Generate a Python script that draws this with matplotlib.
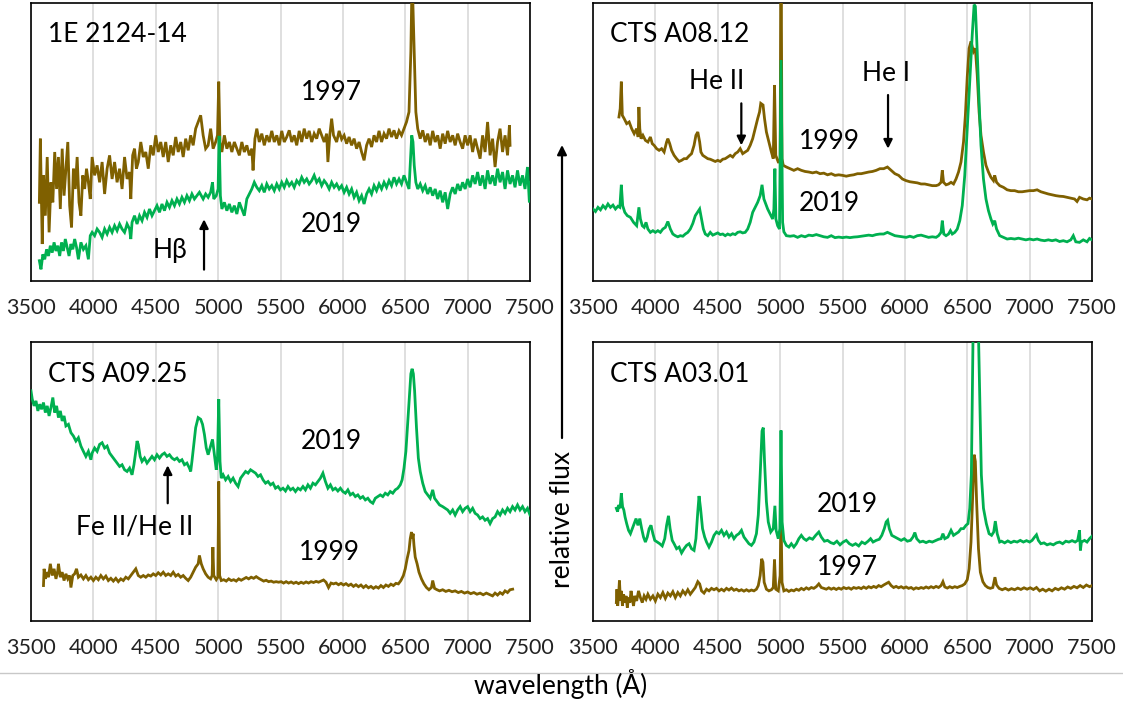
import matplotlib
matplotlib.use("Agg")
import matplotlib.pyplot as plt
from matplotlib.patches import FancyArrowPatch
from matplotlib.lines import Line2D

plt.rcParams['font.family'] = ['Lato', 'DejaVu Sans']

BROWN = '#7F6000'
GREEN = '#00B050'

xticks = [3500, 4000, 4500, 5000, 5500, 6000, 6500, 7000, 7500]

# ---------------- Panel 1: 1E 2124-14 ----------------
p1_1997 = [
    (3567, 28.3), (3575, 51.2), (3590, 13.3), (3600, 38.0), (3615, 23.5), (3630, 44.6), (3645, 17.5),
    (3660, 35.5), (3675, 28.3), (3690, 46.4), (3705, 33.1), (3720, 44.6), (3735, 25.9), (3750, 47.6),
    (3765, 30.7), (3780, 40.4), (3795, 50.0), (3810, 27.1), (3825, 19.3), (3840, 40.4), (3855, 33.1),
    (3870, 44.6), (3885, 28.3), (3900, 23.5), (3915, 38.0), (3930, 33.1), (3945, 40.4), (3960, 35.5),
    (3975, 29.5), (3990, 44.6), (4010, 38.0), (4030, 41.6), (4050, 35.5), (4070, 42.8), (4090, 31.3),
    (4110, 40.4), (4130, 45.2), (4150, 36.7), (4170, 42.8), (4190, 35.5), (4210, 40.4), (4230, 33.1),
    (4250, 44.6), (4270, 36.7), (4290, 39.2), (4300, 29.5), (4315, 45.2), (4330, 47.6), (4345, 40.4),
    (4360, 42.8), (4380, 50.0), (4400, 44.6), (4420, 46.4), (4440, 40.4), (4460, 48.8), (4480, 45.2),
    (4500, 52.4), (4520, 46.4), (4540, 50.0), (4560, 44.6), (4580, 50.0), (4600, 42.8), (4620, 48.8),
    (4640, 45.2), (4660, 51.8), (4680, 46.4), (4700, 50.0), (4720, 44.6), (4740, 51.2), (4760, 47.0),
    (4780, 52.4), (4800, 48.8), (4820, 54.8), (4840, 57.2), (4860, 59.6), (4880, 52.4), (4900, 47.6),
    (4920, 48.8), (4940, 54.8), (4960, 47.6), (4980, 50.0), (4995, 52.4), (5005, 71.7), (5015, 50.0),
    (5030, 46.4), (5050, 52.4), (5070, 47.6), (5090, 50.0), (5110, 46.4), (5130, 50.0), (5150, 47.6),
    (5170, 45.2), (5190, 50.0), (5210, 46.4), (5230, 48.8), (5250, 45.2), (5270, 47.6), (5280, 39.8),
    (5295, 51.2), (5310, 54.8), (5330, 50.0), (5350, 53.0), (5370, 48.8), (5390, 52.4), (5410, 50.0),
    (5430, 54.0), (5450, 50.0), (5470, 52.4), (5490, 48.8), (5510, 54.0), (5530, 50.0), (5550, 51.8),
    (5570, 54.2), (5590, 50.0), (5610, 52.4), (5630, 48.8), (5650, 54.0), (5670, 50.0), (5690, 54.8),
    (5710, 51.2), (5730, 54.0), (5750, 50.0), (5770, 53.0), (5790, 51.2), (5810, 54.8), (5830, 52.4),
    (5850, 50.0), (5870, 53.0), (5880, 42.8), (5895, 52.4), (5910, 58.4), (5925, 52.4), (5950, 50.0),
    (5970, 54.0), (5990, 51.0), (6010, 52.4), (6030, 49.4), (6050, 51.8), (6070, 48.8), (6090, 51.2),
    (6110, 47.6), (6130, 50.0), (6150, 46.4), (6170, 43.4), (6190, 48.8), (6210, 51.2), (6230, 48.2),
    (6250, 52.4), (6270, 50.0), (6290, 54.0), (6310, 50.0), (6330, 53.0), (6350, 51.2), (6370, 54.8),
    (6390, 51.8), (6410, 54.2), (6430, 51.2), (6450, 54.0), (6470, 52.4), (6490, 54.8), (6510, 57.2),
    (6530, 60.8), (6545, 82.5), (6555, 110.0), (6565, 93.4), (6575, 76.5), (6585, 60.8), (6600, 54.8),
    (6620, 51.2), (6640, 54.2), (6660, 50.0), (6680, 53.0), (6700, 48.8), (6720, 54.0), (6740, 50.0),
    (6760, 52.4), (6780, 47.6), (6800, 53.0), (6820, 49.4), (6840, 54.0), (6860, 50.0), (6880, 52.4),
    (6900, 48.8), (6920, 53.0), (6940, 50.0), (6960, 47.6), (6980, 52.4), (7000, 48.8), (7020, 52.4),
    (7040, 46.4), (7060, 51.2), (7080, 47.6), (7100, 44.0), (7120, 52.4), (7140, 46.4), (7160, 57.2),
    (7180, 45.2), (7200, 51.2), (7220, 41.0), (7240, 50.0), (7260, 54.8), (7280, 46.4), (7300, 52.4),
    (7320, 45.2), (7335, 56.0), (7340, 48.8),
]
p1_2019 = [
    (3567, 7.3), (3580, 4.2), (3595, 9.6), (3610, 7.8), (3625, 11.4), (3640, 9.0), (3655, 12.7),
    (3670, 10.2), (3685, 13.9), (3700, 10.8), (3715, 12.7), (3730, 9.0), (3745, 13.9), (3760, 10.8),
    (3775, 15.1), (3790, 12.1), (3805, 9.0), (3820, 13.3), (3835, 11.4), (3850, 15.1), (3865, 12.1),
    (3880, 7.8), (3900, 13.9), (3920, 11.4), (3940, 12.7), (3960, 7.8), (3975, 16.3), (3990, 17.5),
    (4010, 16.3), (4030, 18.7), (4050, 17.5), (4070, 15.7), (4090, 18.7), (4110, 16.9), (4130, 19.3),
    (4150, 17.5), (4170, 19.9), (4190, 18.1), (4210, 20.5), (4230, 18.7), (4250, 17.5), (4270, 20.5),
    (4290, 18.7), (4300, 15.1), (4310, 21.1), (4330, 23.5), (4350, 20.5), (4370, 23.5), (4390, 21.7),
    (4410, 24.7), (4430, 22.9), (4450, 25.9), (4470, 23.5), (4490, 25.3), (4510, 27.1), (4530, 24.7),
    (4550, 27.7), (4570, 25.3), (4590, 28.3), (4610, 26.5), (4630, 28.9), (4650, 27.1), (4670, 29.5),
    (4690, 27.7), (4710, 30.1), (4730, 28.3), (4750, 30.7), (4770, 28.9), (4790, 31.3), (4810, 29.5),
    (4830, 30.7), (4850, 31.9), (4880, 29.5), (4900, 31.3), (4920, 30.1), (4940, 31.9), (4955, 35.5),
    (4965, 29.5), (4985, 30.7), (5000, 33.1), (5008, 52.2), (5018, 30.7), (5030, 25.9), (5050, 28.3),
    (5070, 25.3), (5090, 27.7), (5110, 24.7), (5130, 27.1), (5150, 24.1), (5170, 28.3), (5190, 25.9),
    (5210, 23.5), (5230, 29.5), (5250, 31.3), (5270, 33.1), (5290, 35.5), (5310, 33.7), (5330, 32.5),
    (5350, 34.3), (5370, 31.9), (5390, 34.9), (5410, 33.1), (5430, 34.3), (5450, 32.5), (5470, 34.9),
    (5490, 33.1), (5510, 35.5), (5530, 33.7), (5550, 36.1), (5570, 34.3), (5590, 35.5), (5610, 33.7),
    (5630, 36.1), (5650, 34.9), (5670, 37.3), (5690, 35.5), (5710, 36.7), (5730, 34.9), (5750, 36.1),
    (5770, 38.0), (5790, 35.5), (5810, 36.7), (5830, 34.3), (5850, 36.1), (5870, 34.9), (5890, 33.1),
    (5910, 35.5), (5930, 33.7), (5950, 34.9), (5970, 33.1), (5990, 34.3), (6010, 31.9), (6030, 33.7),
    (6050, 31.3), (6070, 33.1), (6090, 30.1), (6110, 31.9), (6130, 28.9), (6150, 30.7), (6170, 27.7),
    (6190, 31.3), (6210, 33.1), (6230, 31.3), (6250, 34.3), (6270, 32.5), (6290, 34.9), (6310, 33.1),
    (6330, 35.5), (6350, 33.7), (6370, 36.1), (6390, 34.3), (6410, 37.3), (6430, 34.9), (6450, 36.7),
    (6470, 34.9), (6490, 38.0), (6510, 35.5), (6530, 33.1), (6540, 41.6), (6552, 52.4), (6562, 50.0),
    (6572, 41.6), (6585, 35.5), (6600, 33.1), (6620, 34.9), (6640, 32.5), (6660, 34.3), (6680, 31.3),
    (6700, 33.7), (6720, 30.7), (6740, 33.1), (6760, 29.5), (6780, 32.5), (6800, 28.3), (6820, 31.9),
    (6840, 25.9), (6860, 31.3), (6880, 33.7), (6900, 31.3), (6920, 34.9), (6940, 32.5), (6960, 35.5),
    (6980, 33.1), (7000, 36.7), (7020, 33.7), (7040, 38.0), (7060, 34.9), (7080, 39.2), (7100, 34.3),
    (7120, 38.0), (7140, 33.1), (7160, 39.8), (7180, 34.9), (7200, 38.0), (7220, 34.3), (7240, 40.4),
    (7260, 35.5), (7280, 39.2), (7300, 33.1), (7320, 39.8), (7340, 34.9), (7360, 38.0), (7380, 33.7),
    (7400, 39.8), (7420, 34.3), (7440, 38.0), (7460, 33.1), (7480, 41.0), (7495, 28.3), (7500, 35.5),
]

# ---------------- Panel 2: CTS A08.12 ----------------
p2_1999 = [
    (3708, 59.0), (3718, 62.0), (3727, 71.7), (3735, 59.6), (3750, 58.4), (3770, 56.6), (3790, 57.2),
    (3810, 54.8), (3830, 53.0), (3850, 54.8), (3862, 51.8), (3868, 62.6), (3875, 54.8), (3885, 51.2),
    (3900, 52.4), (3920, 50.6), (3940, 50.0), (3960, 51.8), (3975, 49.4), (3990, 48.8), (4010, 47.6),
    (4030, 47.0), (4050, 47.6), (4070, 46.4), (4090, 50.0), (4100, 51.2), (4115, 49.4), (4130, 47.0),
    (4150, 45.2), (4170, 44.0), (4190, 43.0), (4210, 43.4), (4230, 44.0), (4250, 44.0), (4270, 45.0),
    (4290, 45.8), (4310, 48.8), (4325, 52.4), (4340, 53.6), (4355, 50.0), (4365, 46.4), (4380, 45.2),
    (4400, 44.6), (4420, 44.0), (4440, 43.8), (4460, 43.4), (4480, 43.0), (4500, 43.4), (4520, 43.0),
    (4540, 43.8), (4560, 44.0), (4580, 44.6), (4600, 45.2), (4620, 44.6), (4640, 45.8), (4660, 46.4),
    (4680, 47.6), (4700, 45.8), (4720, 46.4), (4740, 47.0), (4760, 48.8), (4780, 51.2), (4800, 54.8),
    (4820, 58.4), (4835, 60.8), (4845, 63.9), (4863, 63.3), (4875, 58.4), (4890, 53.6), (4910, 50.0),
    (4930, 46.4), (4945, 44.0), (4955, 70.5), (4965, 45.2), (4985, 42.8), (5000, 42.8), (5007, 130.0),
    (5015, 44.0), (5025, 41.6), (5050, 41.0), (5080, 40.4), (5110, 39.8), (5140, 40.4), (5170, 39.8),
    (5200, 39.4), (5230, 39.2), (5260, 38.9), (5290, 39.2), (5320, 38.6), (5350, 38.8), (5380, 38.2),
    (5410, 38.6), (5440, 38.0), (5470, 38.2), (5500, 38.0), (5530, 37.7), (5560, 38.0), (5590, 38.2),
    (5620, 38.6), (5650, 38.6), (5680, 38.9), (5710, 39.2), (5740, 39.4), (5770, 39.8), (5800, 40.4),
    (5830, 40.4), (5860, 41.0), (5890, 39.8), (5920, 38.6), (5950, 38.0), (5980, 36.7), (6010, 36.1),
    (6040, 35.7), (6070, 35.5), (6100, 35.3), (6130, 34.9), (6160, 34.9), (6190, 34.6), (6220, 34.3),
    (6250, 34.3), (6270, 34.6), (6290, 35.5), (6300, 39.8), (6310, 35.5), (6330, 34.6), (6350, 34.9),
    (6370, 35.5), (6390, 34.9), (6410, 36.7), (6430, 39.2), (6450, 42.8), (6470, 50.0), (6485, 59.6),
    (6500, 73.4), (6515, 83.7), (6530, 86.2), (6550, 82.5), (6565, 83.7), (6580, 74.1), (6595, 60.8),
    (6610, 52.4), (6630, 46.4), (6650, 41.6), (6670, 39.2), (6690, 37.3), (6710, 36.1), (6720, 38.0),
    (6735, 35.5), (6760, 34.3), (6790, 33.7), (6820, 32.8), (6850, 32.5), (6880, 32.5), (6910, 32.1),
    (6940, 32.1), (6970, 32.3), (7000, 32.5), (7030, 32.5), (7060, 32.8), (7090, 32.1), (7120, 31.7),
    (7150, 31.3), (7180, 31.0), (7210, 30.7), (7240, 30.5), (7270, 30.4), (7300, 30.1), (7330, 29.8),
    (7360, 29.5), (7380, 28.6), (7400, 30.1), (7430, 29.5), (7460, 29.2), (7480, 29.8), (7500, 29.5),
]
p2_2019 = [
    (3500, 25.9), (3520, 25.0), (3540, 26.5), (3560, 25.6), (3580, 27.1), (3600, 26.1), (3620, 27.7),
    (3640, 26.5), (3660, 27.3), (3680, 25.9), (3700, 26.9), (3715, 26.5), (3727, 34.6), (3738, 27.1),
    (3755, 24.7), (3775, 23.5), (3800, 22.9), (3825, 21.1), (3850, 19.9), (3860, 23.5), (3868, 26.5),
    (3880, 22.3), (3895, 19.9), (3910, 19.3), (3925, 21.1), (3940, 18.7), (3960, 17.5), (3980, 18.1),
    (4000, 17.5), (4020, 18.1), (4040, 17.5), (4060, 18.7), (4080, 19.3), (4100, 21.4), (4120, 18.7),
    (4140, 16.9), (4160, 16.3), (4180, 15.9), (4200, 16.3), (4220, 16.1), (4240, 16.9), (4260, 17.5),
    (4280, 18.7), (4300, 20.7), (4320, 23.5), (4355, 25.9), (4370, 22.3), (4385, 18.7), (4400, 16.9),
    (4420, 16.3), (4440, 17.5), (4460, 16.5), (4480, 16.9), (4500, 17.3), (4520, 16.7), (4540, 16.9),
    (4560, 16.3), (4580, 16.9), (4600, 16.5), (4620, 17.0), (4640, 16.7), (4660, 17.5), (4680, 17.7),
    (4700, 17.3), (4720, 17.5), (4740, 18.7), (4760, 21.1), (4780, 24.7), (4800, 26.5), (4820, 28.3),
    (4840, 30.7), (4855, 34.6), (4870, 29.5), (4885, 27.7), (4900, 25.9), (4920, 24.1), (4940, 22.3),
    (4950, 25.9), (4958, 40.4), (4966, 22.3), (4980, 19.9), (4995, 18.7), (5002, 52.4), (5007, 79.5),
    (5013, 52.4), (5020, 21.1), (5030, 17.7), (5050, 16.3), (5080, 16.1), (5110, 16.3), (5140, 15.7),
    (5170, 16.3), (5200, 15.9), (5230, 16.5), (5260, 16.3), (5290, 16.7), (5320, 16.3), (5350, 15.9),
    (5380, 15.7), (5410, 16.3), (5440, 15.6), (5470, 15.8), (5500, 15.6), (5530, 15.8), (5560, 15.6),
    (5590, 15.8), (5620, 15.9), (5650, 16.1), (5680, 16.3), (5710, 16.5), (5740, 16.3), (5770, 16.7),
    (5800, 16.9), (5830, 16.9), (5860, 17.5), (5890, 16.9), (5920, 16.3), (5950, 16.1), (5980, 15.9),
    (6010, 15.7), (6040, 16.1), (6070, 15.7), (6100, 16.3), (6130, 16.5), (6160, 16.1), (6190, 15.7),
    (6220, 15.9), (6250, 15.7), (6270, 16.3), (6290, 17.5), (6300, 21.7), (6312, 16.9), (6330, 16.3),
    (6350, 16.9), (6365, 18.1), (6380, 16.9), (6400, 17.5), (6420, 18.7), (6440, 21.7), (6460, 27.1),
    (6480, 38.0), (6500, 54.8), (6520, 71.7), (6540, 88.6), (6555, 99.4), (6565, 98.8), (6580, 82.5),
    (6595, 64.5), (6610, 48.8), (6630, 36.7), (6650, 29.5), (6670, 25.3), (6690, 22.3), (6705, 20.5),
    (6720, 21.7), (6735, 18.7), (6760, 16.3), (6790, 15.7), (6820, 15.1), (6850, 15.3), (6880, 15.1),
    (6910, 15.4), (6940, 15.1), (6970, 14.8), (7000, 15.1), (7030, 14.8), (7060, 15.1), (7090, 14.7),
    (7120, 14.5), (7150, 14.8), (7180, 14.5), (7210, 14.8), (7240, 14.2), (7270, 14.5), (7300, 14.1),
    (7330, 14.8), (7350, 16.3), (7370, 14.1), (7400, 13.9), (7430, 14.8), (7460, 14.1), (7480, 15.3),
    (7500, 14.8),
]

# ---------------- Panel 3: CTS A09.25 ----------------
p3_2019 = [
    (3500, 82.5), (3510, 79.5), (3525, 77.1), (3540, 78.9), (3555, 75.3), (3570, 77.7), (3585, 75.9),
    (3600, 78.3), (3615, 74.7), (3630, 77.1), (3645, 73.5), (3660, 76.5), (3675, 80.1), (3690, 74.7),
    (3705, 77.1), (3720, 72.9), (3735, 75.3), (3750, 71.7), (3765, 73.5), (3780, 69.9), (3800, 70.5),
    (3820, 67.5), (3840, 66.3), (3860, 64.5), (3880, 65.7), (3900, 62.7), (3920, 60.8), (3940, 59.0),
    (3960, 60.8), (3980, 57.8), (3990, 60.2), (4010, 62.0), (4030, 60.8), (4050, 63.3), (4070, 63.9),
    (4090, 62.0), (4110, 62.7), (4130, 60.2), (4150, 59.0), (4170, 57.8), (4190, 56.6), (4210, 55.4),
    (4230, 56.0), (4250, 54.2), (4270, 53.6), (4290, 54.8), (4310, 52.4), (4325, 56.0), (4340, 60.8),
    (4350, 64.5), (4360, 63.3), (4375, 59.0), (4390, 57.2), (4410, 58.4), (4430, 56.6), (4450, 57.8),
    (4470, 59.0), (4490, 57.8), (4510, 59.6), (4530, 58.4), (4550, 59.6), (4570, 60.2), (4590, 59.0),
    (4610, 59.6), (4630, 58.4), (4650, 57.8), (4670, 58.4), (4690, 57.2), (4710, 57.8), (4730, 56.0),
    (4750, 56.6), (4770, 54.8), (4780, 53.6), (4790, 57.2), (4805, 63.3), (4820, 69.3), (4840, 72.9),
    (4860, 72.3), (4875, 70.5), (4890, 66.9), (4905, 62.0), (4920, 59.6), (4940, 62.7), (4955, 65.1),
    (4970, 59.6), (4985, 54.2), (4995, 58.4), (5005, 79.5), (5015, 57.2), (5025, 51.2), (5040, 52.4),
    (5060, 50.6), (5080, 51.8), (5100, 50.0), (5120, 51.2), (5140, 49.4), (5160, 48.2), (5180, 51.2),
    (5200, 52.4), (5220, 53.6), (5240, 53.0), (5260, 54.2), (5280, 53.6), (5300, 53.0), (5320, 51.8),
    (5340, 52.4), (5360, 50.6), (5380, 49.4), (5400, 50.0), (5420, 48.8), (5440, 49.4), (5460, 47.6),
    (5480, 48.2), (5500, 47.0), (5520, 47.6), (5540, 46.6), (5560, 48.2), (5580, 47.0), (5600, 47.6),
    (5620, 46.4), (5640, 47.6), (5660, 47.0), (5680, 48.2), (5700, 47.0), (5720, 48.8), (5740, 47.6),
    (5760, 49.4), (5780, 48.8), (5800, 50.0), (5820, 51.2), (5840, 53.0), (5860, 50.0), (5880, 47.6),
    (5900, 48.8), (5920, 47.0), (5940, 47.6), (5960, 46.6), (5980, 47.6), (6000, 46.4), (6020, 45.8),
    (6040, 47.0), (6060, 45.2), (6080, 45.8), (6100, 44.6), (6120, 45.2), (6140, 44.0), (6160, 44.6),
    (6180, 43.4), (6200, 44.0), (6220, 42.8), (6240, 42.2), (6260, 44.0), (6280, 44.6), (6300, 45.2),
    (6320, 44.6), (6340, 45.8), (6360, 45.2), (6380, 46.4), (6400, 45.8), (6420, 47.0), (6440, 47.6),
    (6460, 48.8), (6475, 50.6), (6490, 54.8), (6505, 60.8), (6520, 71.1), (6535, 81.3), (6545, 88.6),
    (6555, 90.4), (6565, 88.6), (6575, 82.5), (6590, 69.3), (6605, 58.4), (6620, 53.6), (6640, 49.4),
    (6660, 46.4), (6680, 45.2), (6700, 44.0), (6720, 47.0), (6735, 44.0), (6755, 42.8), (6775, 41.6),
    (6800, 41.0), (6820, 40.4), (6840, 39.8), (6860, 38.6), (6880, 39.8), (6900, 38.0), (6920, 39.8),
    (6940, 41.0), (6960, 39.2), (6980, 40.4), (7000, 41.0), (7020, 39.2), (7040, 40.4), (7060, 38.6),
    (7080, 38.0), (7100, 36.7), (7120, 37.3), (7140, 36.1), (7160, 36.7), (7180, 34.9), (7200, 36.7),
    (7220, 37.3), (7240, 39.2), (7260, 38.0), (7280, 39.8), (7300, 38.6), (7320, 40.4), (7340, 39.2),
    (7360, 41.0), (7380, 39.8), (7400, 41.6), (7420, 39.8), (7440, 41.0), (7460, 39.2), (7480, 40.4),
    (7500, 38.0),
]
p3_1999 = [
    (3600, 12.7), (3605, 18.7), (3615, 15.1), (3625, 17.5), (3640, 15.7), (3655, 20.5), (3670, 16.3),
    (3685, 18.7), (3700, 15.1), (3715, 18.1), (3720, 20.5), (3735, 15.7), (3750, 17.5), (3765, 14.5),
    (3780, 16.9), (3795, 15.1), (3810, 16.3), (3820, 12.0), (3835, 16.3), (3850, 16.9), (3865, 18.7),
    (3880, 15.7), (3900, 16.5), (3920, 15.1), (3940, 16.3), (3960, 14.8), (3980, 15.7), (4000, 14.5),
    (4020, 15.7), (4040, 14.8), (4060, 16.3), (4080, 15.1), (4100, 16.1), (4120, 14.5), (4140, 15.3),
    (4160, 14.3), (4180, 15.3), (4200, 14.1), (4220, 15.1), (4240, 14.5), (4260, 15.7), (4280, 15.1),
    (4300, 16.3), (4320, 17.5), (4340, 18.7), (4360, 16.3), (4380, 15.7), (4400, 16.3), (4420, 15.7),
    (4440, 16.5), (4460, 16.1), (4480, 16.9), (4500, 16.3), (4520, 17.3), (4540, 16.5), (4560, 17.5),
    (4580, 16.3), (4600, 16.9), (4620, 16.3), (4640, 17.5), (4660, 16.1), (4680, 16.7), (4700, 15.7),
    (4720, 16.3), (4740, 15.3), (4760, 14.5), (4780, 15.7), (4800, 17.5), (4820, 19.3), (4840, 20.5),
    (4850, 23.5), (4865, 20.5), (4880, 18.7), (4900, 16.9), (4920, 15.7), (4940, 15.1), (4952, 16.3),
    (4958, 26.5), (4965, 16.3), (4985, 14.8), (4998, 15.7), (5005, 50.0), (5012, 16.3), (5025, 14.5),
    (5045, 14.8), (5065, 14.3), (5085, 15.1), (5105, 14.5), (5125, 14.8), (5145, 14.3), (5165, 15.1),
    (5185, 14.6), (5205, 15.1), (5225, 15.6), (5245, 15.1), (5265, 15.7), (5285, 15.3), (5305, 15.9),
    (5325, 15.3), (5345, 14.8), (5365, 14.3), (5385, 14.6), (5405, 14.1), (5425, 14.3), (5445, 13.9),
    (5465, 14.1), (5485, 13.9), (5505, 14.1), (5525, 13.6), (5545, 14.1), (5565, 13.6), (5585, 14.0),
    (5605, 13.5), (5625, 13.9), (5645, 13.4), (5665, 13.9), (5685, 13.5), (5705, 14.0), (5725, 13.6),
    (5745, 14.1), (5765, 13.8), (5785, 14.2), (5805, 13.9), (5825, 14.3), (5845, 14.7), (5865, 13.9),
    (5885, 12.0), (5905, 13.6), (5925, 13.3), (5945, 13.6), (5965, 13.0), (5985, 13.5), (6005, 12.9),
    (6025, 13.4), (6045, 12.7), (6065, 13.2), (6085, 12.4), (6105, 13.0), (6125, 12.3), (6145, 12.9),
    (6165, 12.0), (6185, 12.7), (6205, 11.9), (6225, 12.4), (6245, 11.7), (6265, 12.3), (6285, 11.8),
    (6305, 12.7), (6325, 12.0), (6345, 12.9), (6365, 12.4), (6385, 13.2), (6405, 12.7), (6425, 13.5),
    (6445, 13.3), (6465, 14.5), (6485, 16.3), (6500, 18.7), (6515, 22.3), (6530, 25.3), (6540, 29.5),
    (6550, 31.9), (6557, 29.5), (6563, 31.3), (6570, 27.1), (6580, 22.9), (6595, 20.5), (6610, 17.5),
    (6630, 15.1), (6650, 13.3), (6670, 12.0), (6690, 11.2), (6710, 12.0), (6720, 14.5), (6735, 11.7),
    (6755, 11.2), (6775, 10.8), (6800, 11.2), (6825, 10.6), (6850, 11.0), (6875, 10.5), (6900, 10.8),
    (6925, 10.2), (6950, 10.6), (6975, 10.0), (7000, 10.4), (7025, 9.8), (7050, 10.2), (7075, 9.6),
    (7100, 10.0), (7125, 9.4), (7150, 10.0), (7175, 9.5), (7200, 9.0), (7220, 10.0), (7240, 9.3),
    (7260, 10.2), (7280, 9.6), (7300, 10.8), (7320, 10.2), (7340, 11.2), (7361, 11.4),
]

# ---------------- Panel 4: CTS A03.01 ----------------
p4_2019 = [
    (3687, 40.4), (3697, 39.2), (3707, 41.6), (3717, 40.4), (3727, 45.8), (3737, 41.0), (3747, 39.8),
    (3757, 37.3), (3770, 34.9), (3785, 32.5), (3800, 31.3), (3815, 33.1), (3830, 34.9), (3845, 36.7),
    (3860, 34.3), (3875, 36.7), (3890, 33.1), (3905, 30.1), (3920, 28.3), (3935, 30.1), (3950, 33.1),
    (3965, 34.3), (3980, 31.3), (3995, 28.9), (4015, 28.3), (4035, 27.7), (4055, 26.9), (4075, 29.5),
    (4090, 34.3), (4105, 37.7), (4118, 33.1), (4135, 28.9), (4150, 27.7), (4170, 25.9), (4190, 26.5),
    (4210, 24.4), (4230, 25.9), (4250, 27.1), (4270, 27.7), (4290, 25.9), (4310, 25.3), (4325, 29.5),
    (4340, 39.2), (4350, 44.8), (4362, 40.4), (4378, 33.1), (4395, 30.1), (4410, 28.3), (4430, 26.5),
    (4450, 28.3), (4470, 30.7), (4490, 31.9), (4510, 31.3), (4530, 32.5), (4550, 30.7), (4570, 31.9),
    (4590, 30.1), (4610, 31.3), (4630, 29.5), (4650, 30.7), (4670, 31.3), (4690, 32.5), (4710, 30.1),
    (4730, 28.9), (4750, 27.7), (4770, 27.1), (4790, 28.3), (4810, 31.3), (4825, 38.0), (4840, 52.4),
    (4855, 68.1), (4865, 69.3), (4875, 57.2), (4890, 42.8), (4905, 35.5), (4925, 31.9), (4945, 33.1),
    (4958, 41.3), (4968, 32.5), (4985, 29.5), (4998, 33.1), (5007, 68.3), (5016, 35.5), (5030, 28.9),
    (5050, 27.1), (5070, 26.5), (5090, 27.7), (5110, 26.5), (5130, 27.7), (5150, 29.5), (5170, 30.7),
    (5190, 29.5), (5210, 28.9), (5235, 29.8), (5260, 29.3), (5285, 30.7), (5310, 31.9), (5330, 30.1),
    (5355, 28.6), (5380, 28.9), (5405, 28.1), (5430, 27.7), (5455, 28.6), (5480, 27.3), (5505, 28.3),
    (5530, 28.9), (5555, 27.7), (5580, 27.1), (5605, 27.7), (5630, 26.9), (5655, 28.3), (5680, 27.7),
    (5705, 28.6), (5725, 29.5), (5745, 28.3), (5770, 28.9), (5795, 29.3), (5815, 30.7), (5835, 33.1),
    (5850, 35.5), (5862, 36.1), (5875, 33.1), (5895, 30.7), (5920, 30.1), (5945, 29.5), (5970, 28.9),
    (5995, 29.5), (6020, 28.6), (6045, 28.9), (6065, 30.1), (6080, 31.7), (6095, 29.5), (6120, 28.3),
    (6145, 28.6), (6170, 28.1), (6195, 28.6), (6220, 28.3), (6245, 28.8), (6270, 29.3), (6290, 29.5),
    (6305, 31.3), (6320, 29.5), (6345, 30.1), (6370, 32.5), (6390, 30.7), (6410, 31.3), (6430, 31.9),
    (6450, 33.1), (6470, 33.1), (6490, 34.3), (6506, 34.9), (6520, 40.4), (6533, 52.4), (6546, 100.6),
    (6565, 200.0), (6591, 100.6), (6613, 52.4), (6630, 40.4), (6653, 34.9), (6675, 31.3), (6695, 30.7),
    (6712, 31.9), (6725, 35.8), (6740, 31.3), (6760, 28.3), (6775, 28.6), (6800, 28.0), (6825, 28.7),
    (6850, 28.1), (6875, 28.6), (6900, 28.3), (6925, 28.9), (6950, 28.3), (6975, 28.8), (7000, 28.3),
    (7020, 28.9), (7040, 30.1), (7055, 30.9), (7070, 28.9), (7090, 27.7), (7115, 28.0), (7140, 27.3),
    (7165, 27.7), (7190, 27.3), (7215, 28.0), (7240, 28.3), (7265, 27.7), (7290, 28.6), (7315, 28.3),
    (7340, 28.8), (7365, 28.3), (7385, 28.9), (7400, 32.5), (7407, 25.3), (7415, 28.3), (7440, 28.9),
    (7460, 28.3), (7480, 29.5), (7500, 30.4),
]
p4_1997 = [
    (3687, 6.6), (3692, 11.4), (3698, 5.4), (3705, 9.0), (3712, 14.5), (3720, 7.2), (3728, 10.8),
    (3736, 5.4), (3745, 9.6), (3755, 6.6), (3765, 9.0), (3775, 4.8), (3785, 8.4), (3795, 6.6),
    (3805, 10.8), (3815, 7.8), (3825, 5.4), (3835, 9.0), (3850, 7.2), (3865, 10.8), (3880, 8.4),
    (3895, 6.6), (3910, 9.0), (3925, 7.8), (3940, 9.6), (3960, 7.8), (3980, 9.0), (4000, 7.2),
    (4020, 9.6), (4040, 8.4), (4060, 10.2), (4080, 8.1), (4100, 10.0), (4120, 9.0), (4140, 10.5),
    (4160, 8.4), (4180, 10.2), (4200, 9.0), (4220, 10.8), (4240, 9.6), (4260, 11.2), (4280, 9.6),
    (4300, 10.8), (4320, 12.0), (4340, 14.1), (4355, 13.3), (4370, 10.8), (4390, 10.0), (4410, 11.4),
    (4430, 10.8), (4450, 11.7), (4470, 11.2), (4490, 11.7), (4510, 10.8), (4530, 11.4), (4550, 10.8),
    (4570, 11.7), (4590, 11.1), (4610, 11.8), (4630, 11.0), (4650, 11.4), (4670, 10.8), (4690, 11.2),
    (4710, 10.7), (4730, 11.2), (4750, 10.7), (4770, 11.1), (4790, 10.8), (4810, 11.4), (4825, 12.7),
    (4840, 16.3), (4852, 22.3), (4862, 21.1), (4872, 13.9), (4890, 11.4), (4910, 10.8), (4930, 11.2),
    (4945, 12.0), (4955, 22.0), (4965, 11.4), (4985, 10.8), (5000, 16.3), (5007, 39.8), (5015, 13.9),
    (5030, 10.8), (5050, 11.2), (5070, 10.6), (5090, 11.1), (5110, 10.8), (5130, 11.4), (5150, 11.0),
    (5170, 11.7), (5190, 11.2), (5210, 11.9), (5230, 11.4), (5250, 12.0), (5270, 11.7), (5290, 12.3),
    (5310, 13.3), (5330, 12.0), (5350, 11.7), (5370, 11.4), (5390, 11.9), (5410, 11.4), (5430, 11.8),
    (5450, 11.3), (5470, 11.8), (5490, 11.4), (5510, 12.0), (5530, 11.6), (5550, 11.9), (5570, 11.4),
    (5590, 12.0), (5610, 11.7), (5630, 12.0), (5650, 11.6), (5670, 12.2), (5690, 11.7), (5710, 12.3),
    (5730, 11.9), (5750, 12.4), (5770, 12.0), (5790, 12.7), (5810, 12.3), (5830, 12.9), (5850, 13.4),
    (5870, 13.9), (5890, 12.7), (5910, 12.0), (5930, 12.4), (5950, 11.9), (5970, 12.3), (5990, 11.8),
    (6010, 12.2), (6030, 11.7), (6050, 12.0), (6070, 11.4), (6090, 11.9), (6110, 11.6), (6130, 12.0),
    (6150, 11.7), (6170, 12.2), (6190, 11.8), (6210, 12.3), (6230, 11.9), (6250, 12.4), (6270, 12.0),
    (6290, 12.7), (6305, 14.1), (6320, 12.2), (6340, 11.8), (6360, 12.3), (6380, 11.9), (6400, 12.3),
    (6420, 12.0), (6440, 12.4), (6460, 12.7), (6480, 13.3), (6500, 14.8), (6515, 18.7), (6530, 28.3),
    (6545, 46.4), (6555, 59.6), (6565, 57.2), (6575, 42.8), (6590, 25.9), (6605, 17.5), (6625, 14.1),
    (6645, 12.7), (6665, 12.0), (6685, 11.7), (6705, 12.0), (6722, 15.7), (6735, 12.9), (6755, 11.7),
    (6780, 11.2), (6805, 11.7), (6830, 11.1), (6855, 11.6), (6880, 11.2), (6905, 11.8), (6930, 11.3),
    (6955, 11.9), (6980, 11.4), (7005, 11.9), (7030, 11.3), (7055, 12.0), (7080, 10.8), (7105, 11.4),
    (7130, 10.7), (7155, 11.4), (7180, 10.8), (7205, 11.7), (7230, 11.2), (7255, 11.9), (7280, 11.4),
    (7305, 12.2), (7330, 11.7), (7355, 12.4), (7380, 11.9), (7405, 12.7), (7430, 12.0), (7455, 12.9),
    (7480, 12.3), (7500, 12.7),
]

W, H = 1123, 702
fig = plt.figure(figsize=(W / 100, H / 100), dpi=100)

def px_axes(x0, y0, x1, y1):
    return fig.add_axes([x0 / W, 1 - y1 / H, (x1 - x0) / W, (y1 - y0) / H])

panels = [
    (px_axes(31, 3, 530, 281), "1E 2124-14", [(p1_1997, BROWN), (p1_2019, GREEN)]),
    (px_axes(593, 3, 1092, 281), "CTS A08.12", [(p2_1999, BROWN), (p2_2019, GREEN)]),
    (px_axes(31, 342, 530, 621), "CTS A09.25", [(p3_2019, GREEN), (p3_1999, BROWN)]),
    (px_axes(593, 342, 1092, 621), "CTS A03.01", [(p4_1997, BROWN), (p4_2019, GREEN)]),
]

TXT = 19

for ax, title, series in panels:
    for data, col in series:
        wl, fx = zip(*data)
        ax.plot(wl, fx, color=col, lw=2.0, solid_joinstyle='miter', zorder=3)
    ax.set_xlim(3500, 7500)
    ax.set_ylim(0, 100)
    ax.set_xticks(xticks)
    ax.set_xticklabels([str(t) for t in xticks])
    ax.set_yticks([])
    ax.grid(axis='x', color='#D9D9D9', lw=1.2, zorder=0)
    ax.set_axisbelow(True)
    ax.tick_params(axis='x', length=0, pad=12, labelsize=15.5, labelcolor='#222222')
    for s in ax.spines.values():
        s.set_color('black')
        s.set_linewidth(1.2)
    ax.text(0.034, 0.885, title, transform=ax.transAxes, fontsize=TXT, ha='left', va='center')

arrow_kw = dict(arrowstyle='-|>', color='black', lw=1.6, mutation_scale=13, shrinkA=0, shrinkB=0)

ax1 = panels[0][0]
ax1.text(5905, 67.7, "1997", fontsize=TXT, ha='center', va='center')
ax1.text(5905, 20.4, "2019", fontsize=TXT, ha='center', va='center')
ax1.text(4614, 11.0, "Hβ", fontsize=TXT, ha='center', va='center')
ax1.annotate('', xy=(4887, 22.2), xytext=(4887, 4.1), arrowprops=arrow_kw)

ax2 = panels[1][0]
ax2.text(5397, 50.2, "1999", fontsize=TXT, ha='center', va='center')
ax2.text(5397, 27.7, "2019", fontsize=TXT, ha='center', va='center')
ax2.text(4494, 71.7, "He II", fontsize=TXT, ha='center', va='center')
ax2.annotate('', xy=(4689, 48.8), xytext=(4689, 63.9), arrowprops=arrow_kw)
ax2.text(5846, 74.7, "He I", fontsize=TXT, ha='center', va='center')
ax2.annotate('', xy=(5865, 47.6), xytext=(5865, 66.9), arrowprops=arrow_kw)

ax3 = panels[2][0]
ax3.text(5905, 64.5, "2019", fontsize=TXT, ha='center', va='center')
ax3.text(5891, 24.7, "1999", fontsize=TXT, ha='center', va='center')
ax3.text(4334, 33.7, "Fe II/He II", fontsize=TXT, ha='center', va='center')
ax3.annotate('', xy=(4596, 55.8), xytext=(4596, 42.2), arrowprops=arrow_kw)

ax4 = panels[3][0]
ax4.text(5539, 41.6, "2019", fontsize=TXT, ha='center', va='center')
ax4.text(5539, 19.3, "1997", fontsize=TXT, ha='center', va='center')

# shared labels
fig.add_artist(FancyArrowPatch((562 / W, 1 - 438 / H), (562 / W, 1 - 145 / H),
                               transform=fig.transFigure, arrowstyle='-|>', mutation_scale=14,
                               lw=1.6, color='black', shrinkA=0, shrinkB=0))
fig.text(562 / W, 1 - 519 / H, "relative flux", rotation=90, fontsize=TXT, ha='center', va='center')
fig.add_artist(Line2D([0, 1], [1 - 673 / H, 1 - 673 / H], transform=fig.transFigure,
                      color='#C8C8C8', lw=1.0))
fig.text(561 / W, 1 - 684 / H, "wavelength (Å)", fontsize=TXT, ha='center', va='center')

fig.savefig("out.png", dpi=100)
